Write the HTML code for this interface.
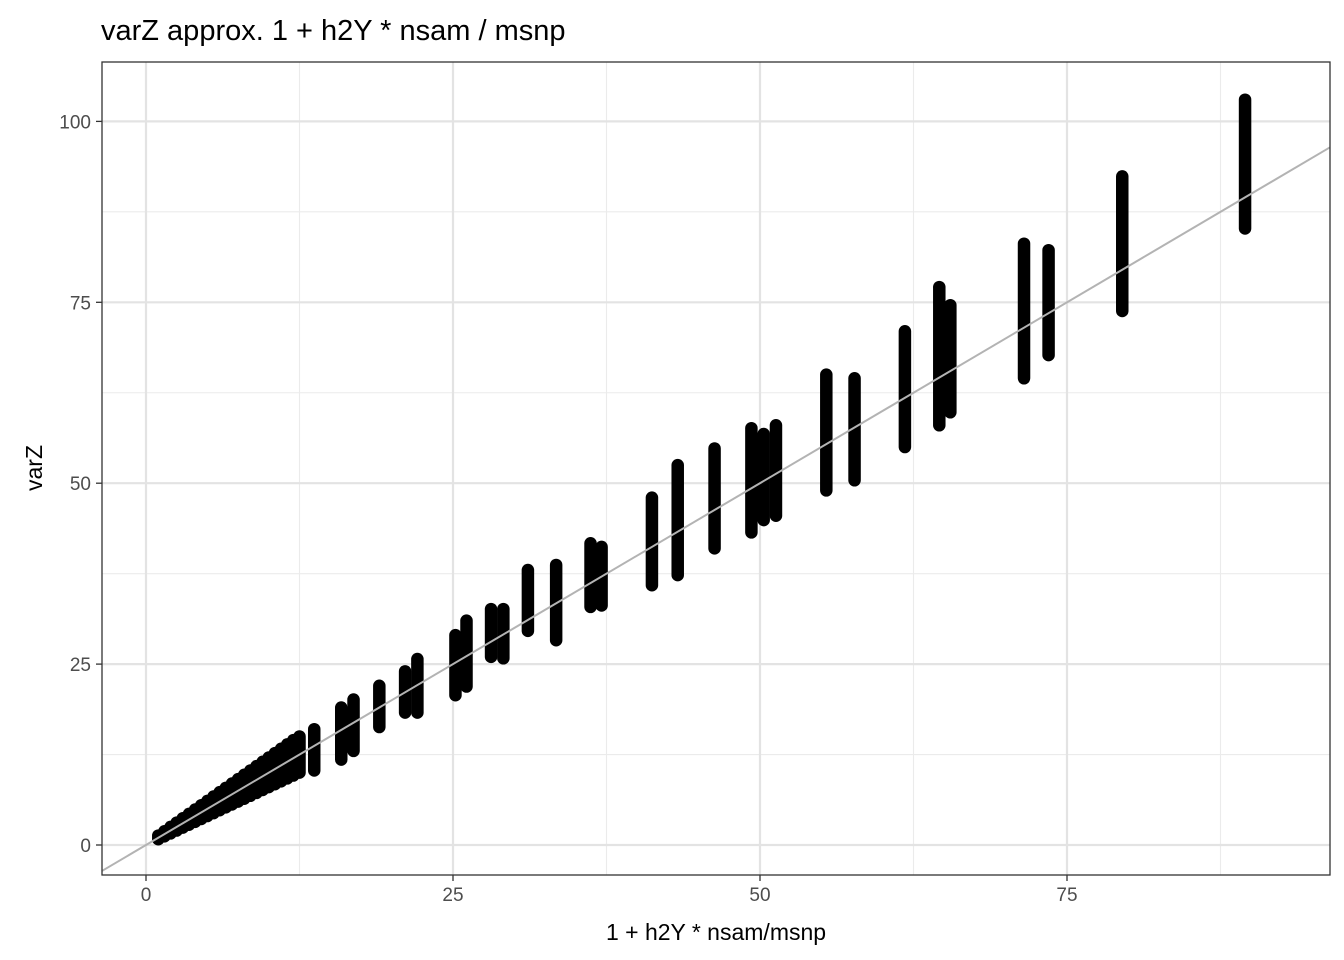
<!DOCTYPE html>
<html><head><meta charset="utf-8"><style>
body{margin:0;background:#fff;}
svg{display:block;font-family:"Liberation Sans",sans-serif;}
</style></head><body>
<svg id="chart" width="1344" height="960">
<text x="101" y="40" font-size="29" fill="#000">varZ approx. 1 + h2Y * nsam / msnp</text>
<g id="grid"></g>
<line id="refline" stroke="#b3b3b3" stroke-width="2"></line>
<g id="marks"></g>
<rect x="102" y="62" width="1228" height="813" fill="none" stroke="#333" stroke-width="1.3"></rect>
<g id="axes"></g>
<text x="716" y="940" font-size="23" text-anchor="middle" fill="#000">1 + h2Y * nsam/msnp</text>
<text transform="translate(42,468) rotate(-90)" font-size="23" text-anchor="middle" fill="#000">varZ</text>
</svg>
<script>
const colX=[1,1.5,2,2.5,3,3.5,4,4.5,5,5.5,6,6.5,7,7.5,8,8.5,9,9.5,10,10.5,11,11.5,12,12.5,13.7,15.9,16.9,19.0,21.1,22.1,25.2,26.1,28.1,29.1,31.1,33.4,36.2,37.1,41.2,43.3,46.3,49.3,50.3,51.3,55.4,57.7,61.8,64.6,65.5,71.5,73.5,79.5,89.5];
const colMin=[0.8,1.2,1.6,2.0,2.4,2.8,3.2,3.6,4.0,4.4,4.8,5.2,5.6,6.0,6.4,6.8,7.2,7.6,8.0,8.4,8.8,9.2,9.6,10.0,10.3,11.8,13.0,16.3,18.3,18.3,20.7,21.9,26.0,25.8,29.6,28.3,32.9,33.1,35.9,37.3,41.0,43.2,44.9,45.5,49.0,50.4,55.0,58.0,59.8,64.5,67.7,73.8,85.2];
const colMax=[1.3,1.9,2.5,3.1,3.7,4.3,4.9,5.5,6.1,6.7,7.3,7.9,8.5,9.1,9.7,10.3,10.9,11.5,12.1,12.7,13.3,13.9,14.5,15.0,16.0,19.0,20.1,22.0,24.0,25.7,29.0,31.0,32.6,32.6,38.0,38.7,41.7,41.2,48.0,52.5,54.8,57.6,56.8,58.0,65.0,64.5,71.0,77.1,74.6,83.1,82.2,92.4,103.0];
const xTicks=[0,25,50,75];
const yTicks=[0,25,50,75,100];
const x0=146, xs=12.28, y0=845, ys=7.236;
const X=v=>x0+v*xs, Y=v=>y0-v*ys;
const NS="http://www.w3.org/2000/svg";
function mk(t,a,p){const e=document.createElementNS(NS,t);for(const k in a)e.setAttribute(k,a[k]);p.appendChild(e);return e;}
const grid=document.getElementById('grid'), axes=document.getElementById('axes'), marks=document.getElementById('marks');
[12.5,37.5,62.5,87.5].forEach(v=>{const l=mk('line',{x1:X(v),x2:X(v),y1:62,y2:875,stroke:'#ebebeb','stroke-width':1.1},grid);

});
[12.5,37.5,62.5,87.5].forEach(v=>{const l=mk('line',{x1:102,x2:1330,y1:Y(v),y2:Y(v),stroke:'#ebebeb','stroke-width':1.1},grid);

});
xTicks.forEach(v=>{const l=mk('line',{x1:X(v),x2:X(v),y1:62,y2:875,stroke:'#e3e3e3','stroke-width':2.2},grid);


const t=mk('line',{x1:X(v),x2:X(v),y1:875,y2:881,stroke:'#333','stroke-width':1.3},axes);


const tx=mk('text',{x:X(v),y:901,'font-size':19,'text-anchor':'middle',fill:'#4d4d4d'},axes);tx.textContent=v;

});
yTicks.forEach(v=>{const l=mk('line',{x1:102,x2:1330,y1:Y(v),y2:Y(v),stroke:'#e3e3e3','stroke-width':2.2},grid);


const t=mk('line',{x1:96,x2:102,y1:Y(v),y2:Y(v),stroke:'#333','stroke-width':1.3},axes);


const tx=mk('text',{x:91,y:Y(v)+7,'font-size':19,'text-anchor':'end',fill:'#4d4d4d'},axes);tx.textContent=v;

});
const rl=document.getElementById('refline');
const xa=-3.6, xb=96.4;
rl.setAttribute('x1',X(xa));rl.setAttribute('y1',Y(xa));rl.setAttribute('x2',X(xb));rl.setAttribute('y2',Y(xb));
colX.forEach((v,i)=>{const c=mk('line',{x1:X(v),x2:X(v),y1:Y(colMin[i]),y2:Y(colMax[i]),stroke:'#000','stroke-width':12.5,'stroke-linecap':'round'},marks);

});
marks.parentNode.insertBefore(marks, rl);
</script>
</body></html>
